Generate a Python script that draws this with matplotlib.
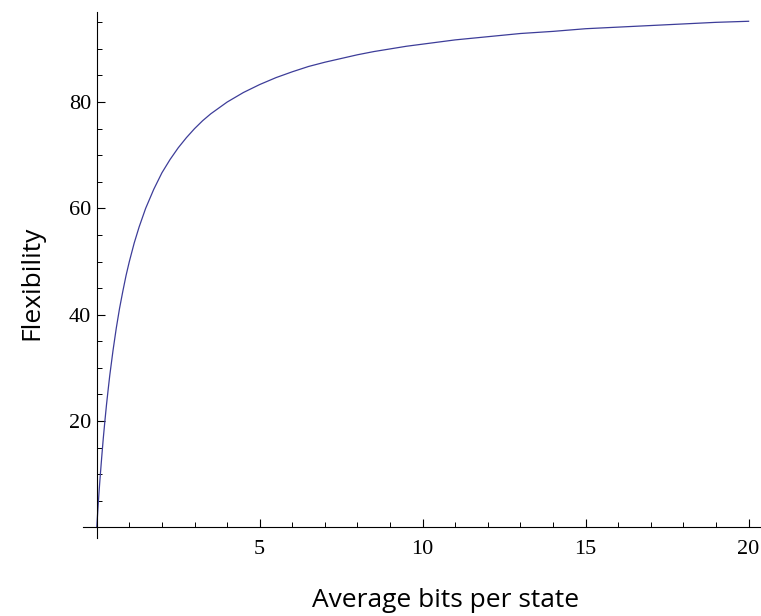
import matplotlib
matplotlib.use('Agg')
import matplotlib.pyplot as plt
from matplotlib.ticker import MultipleLocator

# values
bits = [0, 0.025, 0.05, 0.075, 0.1, 0.15, 0.2, 0.25, 0.3, 0.35, 0.4, 0.5, 0.6, 0.7,
        0.8, 0.9, 1.0, 1.15, 1.3, 1.5, 1.75, 2.0, 2.25, 2.5, 2.75, 3.0, 3.25, 3.5, 3.75,
        4.0, 4.5, 5.0, 5.5, 6.0, 6.5, 7.0, 7.5, 8.0, 8.5, 9.0, 9.5, 10, 10.5, 11, 11.5,
        12, 13, 14, 15, 16, 17, 18, 19, 20]
flex = [0, 2.4, 4.8, 7.0, 9.1, 13.0, 16.7, 20.0, 23.1, 25.9, 28.6, 33.3, 37.5, 41.2,
        44.4, 47.4, 50.0, 53.5, 56.5, 60.0, 63.6, 66.7, 69.2, 71.4, 73.3, 75.0, 76.5, 77.8, 78.9,
        80.0, 81.8, 83.3, 84.6, 85.7, 86.7, 87.5, 88.2, 88.9, 89.5, 90.0, 90.5, 90.9, 91.3, 91.7, 92.0,
        92.3, 92.9, 93.3, 93.8, 94.1, 94.4, 94.7, 95.0, 95.2]

x_major = [5, 10, 15, 20]
y_major = [20, 40, 60, 80]

fig = plt.figure(figsize=(7.61, 6.16), dpi=100)
ax = fig.add_axes([0.1087, 0.1266, 0.890, 0.8544])

ax.plot(bits, flex, color='#3d3d99', lw=0.9)

ax.set_xlim(-0.43, 20.35)
ax.set_ylim(-2, 97)

for s in ['top', 'right']:
    ax.spines[s].set_visible(False)
ax.spines['left'].set_position(('data', 0))
ax.spines['bottom'].set_position(('data', 0))
for s in ['left', 'bottom']:
    ax.spines[s].set_linewidth(0.8)

ax.set_xticks(x_major)
ax.set_yticks(y_major)
ax.xaxis.set_minor_locator(MultipleLocator(1))
ax.yaxis.set_minor_locator(MultipleLocator(5))
ax.tick_params(which='major', direction='in', length=6, width=0.8)
ax.tick_params(which='minor', direction='in', length=3.3, width=0.7)
ax.tick_params(axis='x', which='major', pad=9)
ax.tick_params(axis='y', which='major', pad=4)
for lab in ax.get_xticklabels() + ax.get_yticklabels():
    lab.set_fontfamily('Liberation Serif')
    lab.set_fontsize(16)

ax.set_xlabel('Average bits per state', fontsize=19, fontfamily='Open Sans', va='baseline')
ax.set_ylabel('Flexibility', fontsize=19, fontfamily='Open Sans')
ax.xaxis.set_label_coords(0.535, -0.131)
ax.yaxis.set_label_coords(-0.057, 0.4845)

fig.savefig('out.png', dpi=100)
